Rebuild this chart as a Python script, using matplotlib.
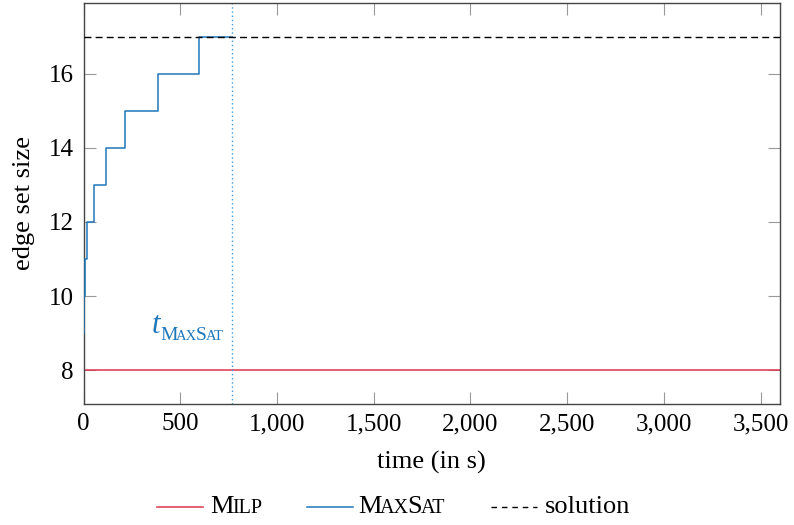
import matplotlib
matplotlib.use("Agg")
import matplotlib.pyplot as plt
from matplotlib.lines import Line2D
from matplotlib.ticker import FuncFormatter

plt.rcParams['font.family'] = ['Liberation Serif', 'DejaVu Serif']

# ---- data ----
milp_t = [0, 3600]
milp_v = [8, 8]
maxsat_t = [0, 4, 8, 20, 54, 115, 216, 383, 598, 769]
maxsat_v = [9, 10, 11, 12, 13, 14, 15, 16, 17, 17]
solution_value = 17
t_maxsat = 769
x_ticks = [0, 500, 1000, 1500, 2000, 2500, 3000, 3500]
y_ticks = [8, 10, 12, 14, 16]

RED = '#e0334d'
BLUE = '#1f77bb'
LBLUE = '#3f9ee0'
FS = 18
LFS = 19

fig = plt.figure(figsize=(7.94, 5.25), dpi=100)
W, H = 794, 525
ax = fig.add_axes([83.5 / W, 1 - 403.5 / H, (780 - 83.5) / W, (403.5 - 3.3) / H])

ax.plot(milp_t, milp_v, color=RED, lw=1.1)
ax.step(maxsat_t, maxsat_v, where='post', color=BLUE, lw=1.1, zorder=3)
ax.axhline(solution_value, color='black', lw=1.0, dashes=(5, 3), zorder=4)
ax.axvline(t_maxsat, color=LBLUE, lw=1.0, ls=(0, (1, 2)))

ax.set_xlim(0, 3600)
ax.set_ylim(7.1, 17.9)
ax.set_xticks(x_ticks)
ax.set_yticks(y_ticks)
ax.xaxis.set_major_formatter(FuncFormatter(lambda v, p: f"{int(v):,}"))
ax.tick_params(direction='in', length=8.5, width=0.8, color='#999999',
               top=True, right=True, labelsize=FS, pad=7)
for s in ax.spines.values():
    s.set_color('#444444')
    s.set_linewidth(1.0)
    s.set_zorder(2.5)

ax.set_xlabel('time (in s)', fontsize=LFS, labelpad=11)
ax.set_ylabel('edge set size', fontsize=LFS, labelpad=10)

renderer = fig.canvas.get_renderer()


def pieces_text(x_px, y_px, pieces, color):
    """Draw small-caps-like text pieces along a baseline at figure pixel coords."""
    x = x_px
    for txt, size, style in pieces:
        t = fig.text(x / W, y_px / H, txt, fontsize=size, style=style,
                     color=color, ha='left', va='baseline')
        bb = t.get_window_extent(renderer)
        x = bb.x1 - 1.5
    return x


def measure(pieces):
    x = 0
    for txt, size, style in pieces:
        t = fig.text(0, 0, txt, fontsize=size, style=style, ha='left', va='baseline')
        bb = t.get_window_extent(renderer)
        x += bb.width - 1.5
        t.remove()
    return x


def smallcaps(word, big, small):
    merged = []
    for ch in word:
        p = (ch, big) if ch.isupper() else (ch.upper(), small)
        if merged and merged[-1][1] == p[1]:
            merged[-1] = (merged[-1][0] + p[0], p[1])
        else:
            merged.append(p)
    return [(a, b, 'normal') for a, b in merged]


# t_MaxSat label
disp = ax.transData.transform((t_maxsat, 9))
x_right = disp[0] - 12
y_base = disp[1] - 7
sub = smallcaps('MaxSat', 14, 10.5)
tpiece = [('t', 22, 'italic')]
total = measure(tpiece) + measure(sub)
tt = fig.text((x_right - total) / W, (y_base + 7) / H, 't', fontsize=22,
              style='italic', color=BLUE, ha='left', va='baseline')
bb = tt.get_window_extent(renderer)
pieces_text(bb.x1, y_base, sub, BLUE)

# legend
ly = 525 - 507 - 6
def legline(x0, x1, **kw):
    fig.add_artist(Line2D([x0 / W, x1 / W], [(ly + 6) / H, (ly + 6) / H], **kw))

legline(157, 203, color=RED, lw=1.1)
pieces_text(210, ly, smallcaps('Milp', LFS, 14.5), 'black')
legline(307, 353, color=BLUE, lw=1.1)
pieces_text(358, ly, smallcaps('MaxSat', LFS, 14.5), 'black')
legline(491, 537, color='black', lw=1.0, dashes=(4, 3.5))
fig.text(545 / W, ly / H, 'solution', fontsize=LFS, ha='left', va='baseline')

fig.savefig('out.png', dpi=100)
